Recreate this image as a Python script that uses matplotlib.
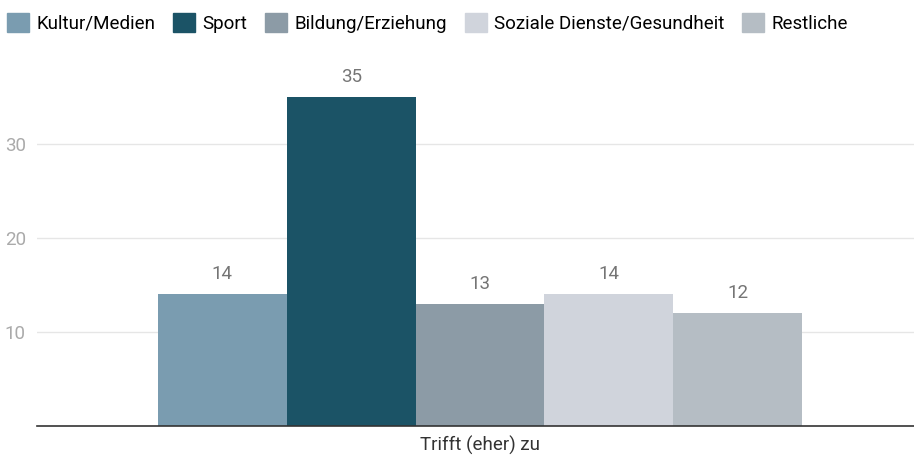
import matplotlib
matplotlib.use("Agg")
import matplotlib.pyplot as plt
from matplotlib.patches import Patch

plt.rcParams['font.family'] = ['Roboto', 'DejaVu Sans']

category = "Trifft (eher) zu"
series = ["Kultur/Medien", "Sport", "Bildung/Erziehung", "Soziale Dienste/Gesundheit", "Restliche"]
values = [14, 35, 13, 14, 12]
colors = ["#7a9cb0", "#1b5366", "#8c9ba6", "#d0d4dc", "#b5bdc4"]
yticks = [10, 20, 30]

fs = 13.5
fig = plt.figure(figsize=(9.14, 4.55), dpi=100)
ax = fig.add_axes([37/914, 1 - 426/455, 877/914, (426-50)/455])

n = len(series)
offsets = [i - (n - 1) / 2 for i in range(n)]
for off, v, c, s in zip(offsets, values, colors, series):
    b = ax.bar(off, v, width=1.0, color=c, label=s)
    ax.bar_label(b, padding=8, fontsize=fs, color="#757575")

ax.set_xlim(-3.439, 3.370)
ax.set_ylim(0, 40)
ax.set_xticks([0])
ax.set_xticklabels([category], fontsize=fs, color="#333333")
ax.set_yticks(yticks)
ax.set_yticklabels([str(t) for t in yticks], fontsize=fs, color="#aaaaaa")
ax.tick_params(axis='both', length=0)
ax.tick_params(axis='x', pad=7)
ax.tick_params(axis='y', pad=8)
ax.grid(axis='y', color="#e6e6e6", linewidth=1)
ax.set_axisbelow(True)
for sp in ["top", "right", "left"]:
    ax.spines[sp].set_visible(False)
ax.spines["bottom"].set_color("#333333")
ax.spines["bottom"].set_linewidth(1.2)

handles = [Patch(color=c, label=s) for c, s in zip(colors, series)]
fig.legend(handles=handles, loc="upper left", bbox_to_anchor=(7/914, 1 - 13/455), ncol=5,
           frameon=False, fontsize=fs, handlelength=1.17, handleheight=1.17,
           handletextpad=0.38, columnspacing=0.96, borderaxespad=0, borderpad=0)

fig.savefig("out.png", dpi=100)
